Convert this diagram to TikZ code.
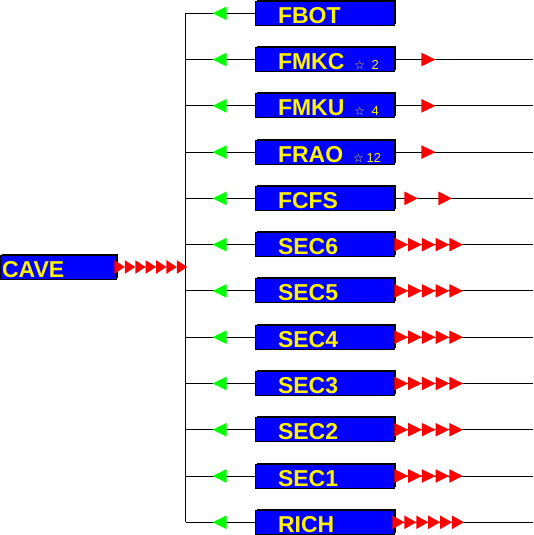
\documentclass[tikz,border=0pt]{standalone}
\usepackage{fontspec}
\newfontfamily\boxfont{Liberation Sans}
\newfontfamily\symfont{DejaVu Sans}
\usetikzlibrary{positioning,shadows}

% small star mark with its count, after a box name
\newcommand{\starcount}[1]{\nobreak\hspace{10pt}{\mdseries\fontsize{13}{13}\selectfont
  {\symfont\fontsize{12}{12}\selectfont ☆}\nobreak\hspace{3pt}\makebox[14pt][c]{#1}}}

\tikzset{
  secbox/.style={draw=black,fill=blue,text=yellow,
    font=\boxfont\bfseries\fontsize{23}{23}\selectfont,
    minimum width=139pt,minimum height=24pt,inner ysep=0pt,
    inner xsep=23pt,text width=93pt,align=left,
    text height=20pt,text depth=0pt,
    drop shadow={shadow xshift=1.5pt,shadow yshift=1.5pt,fill=black,opacity=1}},
  cavebox/.style={secbox,inner xsep=2pt,text width=112pt,minimum width=116pt},
  redtip/.pic={\fill[red] (0,-6.8) -- (#1,0) -- (0,6.8) -- cycle;},
  greentip/.pic={\fill[green] (14,-6.8) -- (0,0) -- (14,6.8) -- cycle;}
}

\begin{document}
\begin{tikzpicture}[x=1pt,y=-1pt,line width=0.9pt,node distance=21.37pt]
\useasboundingbox (0,0) rectangle (533,535);

\node[cavebox] (cave) at (58,267) {CAVE};
\coordinate (bus) at (185.5,267);
\coordinate (edge) at (533,267);

\node[secbox] (fbot) at (324.5,13.3) {FBOT};
\node[secbox,below=of fbot] (fmkc) {FMKC\starcount{2}};
\node[secbox,below=of fmkc] (fmku) {FMKU\starcount{4}};
\node[secbox,below=of fmku] (frao) {FRAO\starcount{12}};
\node[secbox,below=of frao] (fcfs) {FCFS};
\node[secbox,below=of fcfs] (sec6) {SEC6};
\node[secbox,below=of sec6] (sec5) {SEC5};
\node[secbox,below=of sec5] (sec4) {SEC4};
\node[secbox,below=of sec4] (sec3) {SEC3};
\node[secbox,below=of sec3] (sec2) {SEC2};
\node[secbox,below=of sec2] (sec1) {SEC1};
\node[secbox,below=of sec1] (rich) {RICH};

% trunk and branches
\draw (fbot.west -| bus) -- (rich.west -| bus);
\foreach \b in {fbot,fmkc,fmku,frao,fcfs,sec6,sec5,sec4,sec3,sec2,sec1,rich} {
  \draw (\b.west) -- (\b.west -| bus);
  \pic at ([xshift=-42pt]\b.west) {greentip};
}
\foreach \b in {fmkc,fmku,frao,fcfs,sec6,sec5,sec4,sec3,sec2,sec1,rich}
  \draw (\b.east) -- (\b.east -| edge);

% red tips
\foreach \i in {0,...,6}
  \pic at ([xshift=-2pt+\i*10.4pt]cave.east) {redtip=10.4};
\foreach \b in {fmkc,fmku,frao}
  \pic at ([xshift=27pt]\b.east) {redtip=14};
\pic at ([xshift=10pt]fcfs.east) {redtip=13.5};
\pic at ([xshift=44pt]fcfs.east) {redtip=13.5};
\foreach \b in {sec6,sec5,sec4,sec3,sec2,sec1}
  \foreach \i in {0,...,4}
    \pic at ([xshift=\i*13.7pt]\b.east) {redtip=13.7};
\foreach \i in {0,...,5}
  \pic at ([xshift=-2pt+\i*11.9pt]rich.east) {redtip=11.9};
\end{tikzpicture}
\end{document}
